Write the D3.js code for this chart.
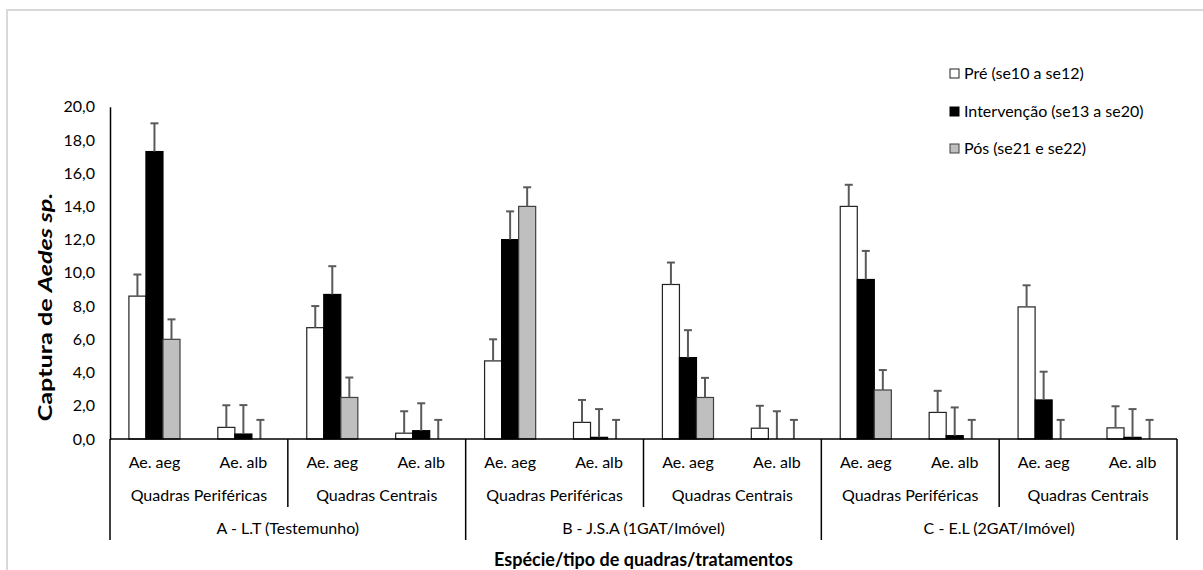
<!DOCTYPE html>
<html lang="pt">
<head>
<meta charset="UTF-8">
<title>Captura de Aedes sp.</title>
<style>
  body { margin: 0; background: #fff; }
  text { font-family: Lato, "Open Sans", sans-serif; fill: #000; }
</style>
</head>
<body>
<svg id="chart" width="1203" height="570"></svg>
<script src="https://cdn.jsdelivr.net/npm/d3@7"></script>
<script>
// category levels
var species = ["Ae. aeg", "Ae. alb"];
var blocks = ["Quadras Periféricas", "Quadras Centrais"];
var treatments = ["A - L.T (Testemunho)", "B - J.S.A (1GAT/Imóvel)", "C - E.L (2GAT/Imóvel)"];

var seriesNames = ["Pré (se10 a se12)", "Intervenção (se13 a se20)", "Pós (se21 e se22)"];

// mean captures, one value per category (treatment > block > species)
var preVals = [8.6, 0.7, 6.7, 0.35, 4.7, 1.0, 9.3, 0.65, 14.0, 1.6, 7.95, 0.67];
var intVals = [17.3, 0.3, 8.7, 0.5, 12.0, 0.1, 4.9, 0.0, 9.6, 0.2, 2.35, 0.1];
var posVals = [6.0, 0.0, 2.5, 0.0, 14.0, 0.0, 2.5, 0.0, 2.95, 0.0, 0.0, 0.0];

// error bar (upper) sizes
var preErr = [1.3, 1.33, 1.3, 1.32, 1.3, 1.35, 1.32, 1.35, 1.3, 1.3, 1.3, 1.3];
var intErr = [1.7, 1.74, 1.7, 1.65, 1.7, 1.7, 1.65, 1.67, 1.72, 1.7, 1.7, 1.7];
var posErr = [1.2, 1.15, 1.2, 1.15, 1.15, 1.15, 1.18, 1.15, 1.2, 1.15, 1.15, 1.15];

var yTicks = [0, 2, 4, 6, 8, 10, 12, 14, 16, 18, 20];

var svg = d3.select("#chart");
var mLeft = 110, mRight = 1177, mTop = 106.7, mBottom = 439;

// outer frame
svg.append("rect")
    .attr("x", 7).attr("y", 10)
    .attr("width", 1210).attr("height", 580)
    .attr("fill", "none")
    .attr("stroke", "#d9d9d9")
    .attr("stroke-width", 2);

// build the flat category list
var cats = [];
treatments.forEach(function(t, ti) {
    blocks.forEach(function(b, bi) {
        species.forEach(function(s, si) {
            cats.push({ t: ti, b: bi, s: si, label: s, key: ti + "-" + bi + "-" + si });
        });
    });
});

var x = d3.scaleBand().domain(cats.map(d => d.key)).range([mLeft, mRight]).padding(0);
var xs = d3.scaleBand().domain([0, 1, 2]).range([0, x.bandwidth()]).paddingInner(0).paddingOuter(1.11);
var y = d3.scaleLinear().domain([0, 20]).range([mBottom, mTop]);

var series = [
    { vals: preVals, err: preErr, fill: "#ffffff", stroke: "#222" },
    { vals: intVals, err: intErr, fill: "#000000", stroke: "#000" },
    { vals: posVals, err: posErr, fill: "#bfbfbf", stroke: "#404040" }
];

// bars
series.forEach(function(s, si) {
    var g = svg.append("g");
    g.selectAll("rect")
        .data(cats)
        .join("rect")
        .attr("x", d => x(d.key) + xs(si))
        .attr("y", (d, i) => y(s.vals[i]))
        .attr("width", xs.bandwidth())
        .attr("height", (d, i) => y(0) - y(s.vals[i]))
        .attr("fill", s.fill)
        .attr("stroke", s.stroke)
        .attr("stroke-width", 1.2);

    // error bars
    var eg = svg.append("g").attr("stroke", "#5a5a5a").attr("stroke-width", 2);
    cats.forEach(function(d, i) {
        var cx = x(d.key) + xs(si) + xs.bandwidth() / 2;
        var y0 = y(s.vals[i]), y1 = y(s.vals[i] + s.err[i]);
        eg.append("line").attr("x1", cx).attr("x2", cx).attr("y1", y0).attr("y2", y1);
        eg.append("line").attr("x1", cx - 4).attr("x2", cx + 4).attr("y1", y1).attr("y2", y1);
    });
});

// y axis
var yAxis = d3.axisLeft(y)
    .tickValues(yTicks)
    .tickSize(0)
    .tickPadding(15)
    .tickFormat(d => d3.format(".1f")(d).replace(".", ","));
var yg = svg.append("g").attr("transform", "translate(" + mLeft + ",0)").call(yAxis);
yg.select(".domain").attr("stroke", "#000").attr("stroke-width", 1.5);
yg.selectAll("text").style("font-family", "Lato, sans-serif").style("font-size", "16px").attr("fill", "#000");

// x axis line
svg.append("line")
    .attr("x1", mLeft).attr("x2", mRight)
    .attr("y1", mBottom).attr("y2", mBottom)
    .attr("stroke", "#000").attr("stroke-width", 1.5);

// species labels
svg.append("g").selectAll("text")
    .data(cats)
    .join("text")
    .attr("x", d => x(d.key) + x.bandwidth() / 2)
    .attr("y", 468)
    .attr("text-anchor", "middle")
    .style("font-size", "16px")
    .text(d => d.label);

// block labels and dividers
var bw = x.bandwidth() * 2;
treatments.forEach(function(t, ti) {
    blocks.forEach(function(b, bi) {
        var x0 = x(ti + "-" + bi + "-0");
        svg.append("text")
            .attr("x", x0 + bw / 2)
            .attr("y", 501)
            .attr("text-anchor", "middle")
            .style("font-size", "16px")
            .text(b);
        if (bi === 1) {
            svg.append("line")
                .attr("x1", x0).attr("x2", x0)
                .attr("y1", mBottom).attr("y2", 507)
                .attr("stroke", "#000").attr("stroke-width", 1.5);
        }
    });
    var tx = x(ti + "-0-0");
    svg.append("text")
        .attr("x", tx + bw)
        .attr("y", 534)
        .attr("text-anchor", "middle")
        .style("font-size", "16px")
        .text(t);
    svg.append("line")
        .attr("x1", tx).attr("x2", tx)
        .attr("y1", mBottom).attr("y2", 540)
        .attr("stroke", "#000").attr("stroke-width", 1.5);
});
svg.append("line")
    .attr("x1", mRight).attr("x2", mRight)
    .attr("y1", mBottom).attr("y2", 540)
    .attr("stroke", "#000").attr("stroke-width", 1.5);

// axis titles
svg.append("text")
    .attr("x", (mLeft + mRight) / 2)
    .attr("y", 566)
    .attr("text-anchor", "middle")
    .style("font-size", "18px")
    .style("font-weight", "bold")
    .text("Espécie/tipo de quadras/tratamentos");

// the y title in the reference is stretched along its length
var yt = svg.append("text")
    .attr("transform", "translate(52,307) rotate(-90) scale(1.4,1)")
    .attr("text-anchor", "middle")
    .style("font-size", "18px")
    .style("font-weight", "bold");
yt.append("tspan").text("Captura de ");
yt.append("tspan").style("font-style", "italic").text("Aedes sp.");

// legend
var lg = svg.append("g").attr("transform", "translate(950,0)");
var legY = [73, 111, 148];
series.forEach(function(s, i) {
    lg.append("rect")
        .attr("x", 0).attr("y", legY[i] - 4)
        .attr("width", 9).attr("height", 9)
        .attr("fill", s.fill)
        .attr("stroke", s.stroke)
        .attr("stroke-width", 1);
    lg.append("text")
        .attr("x", 14).attr("y", legY[i] + 5.5)
        .style("font-size", "16px")
        .text(seriesNames[i]);
});
</script>
</body>
</html>
